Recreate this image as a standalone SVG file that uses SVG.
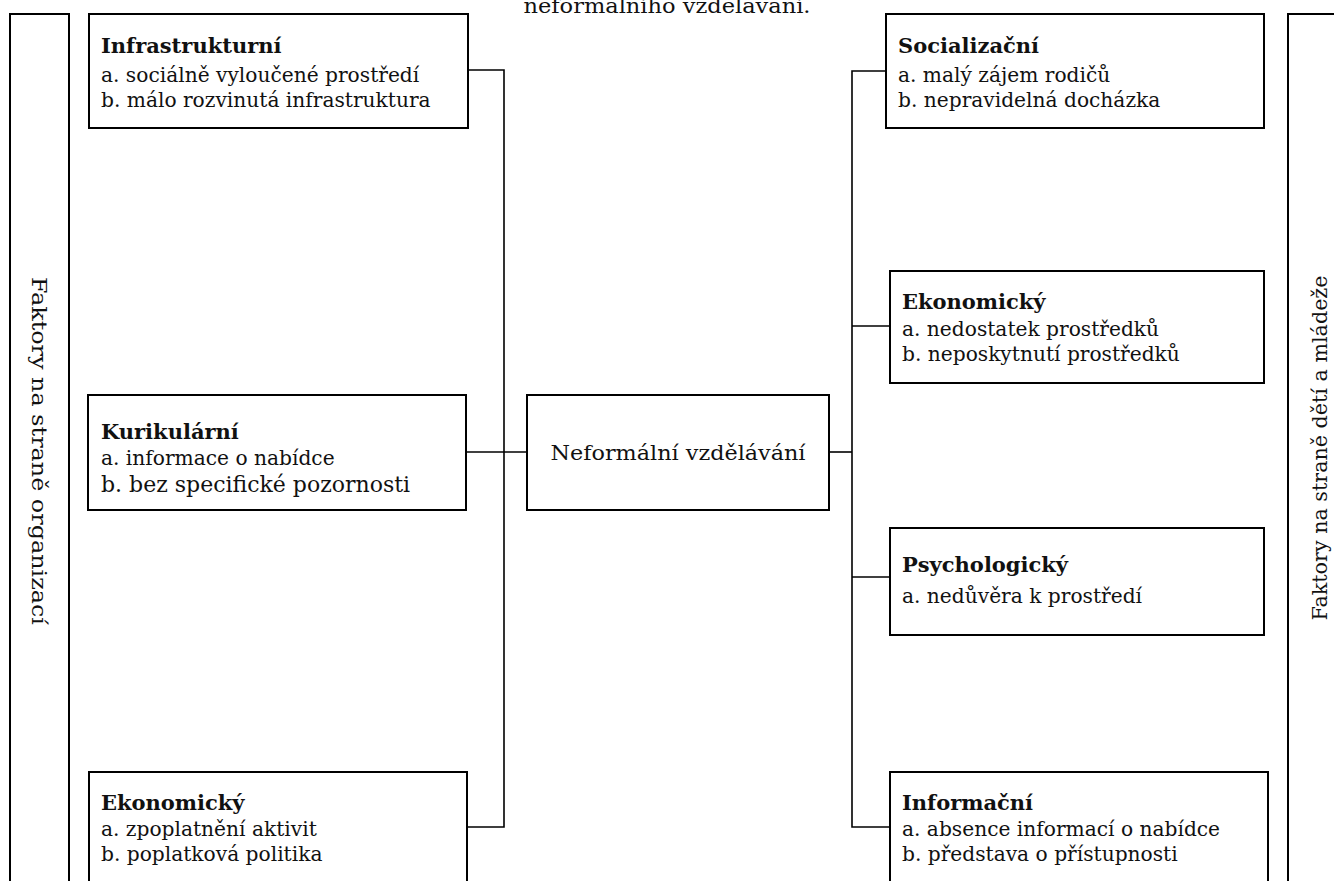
<svg xmlns="http://www.w3.org/2000/svg" width="1334" height="881" viewBox="0 0 1334 881">
<style>
  .box{fill:#fff;stroke:#000;stroke-width:2}
  .col{fill:#fff;stroke:#000;stroke-width:2}
  .ln{fill:none;stroke:#000;stroke-width:1.6}
  text{font-family:"DejaVu Serif","Liberation Serif",serif;fill:#111;font-size:20.2px}
  .t{font-weight:bold;font-size:21px}
  .c{font-size:21px;text-anchor:middle}
</style>
<rect width="1334" height="881" fill="#fff"/>
<text class="c" x="667" y="13" style="font-size:20px" textLength="287" lengthAdjust="spacingAndGlyphs">neformálního vzdělávání.</text>

<g id="col-left"><rect class="col" x="10" y="14" width="59" height="900"/>
<text x="0" y="0" class="c" transform="translate(32,451) rotate(90)" textLength="348" lengthAdjust="spacingAndGlyphs">Faktory na straně organizací</text></g>
<g id="col-right"><rect class="col" x="1288" y="14" width="60" height="900"/>
<text x="0" y="0" class="c" transform="translate(1327,448) rotate(-90)" textLength="345" lengthAdjust="spacingAndGlyphs">Faktory na straně dětí a mládeže</text></g>

<g id="connectors">
  <path class="ln" d="M467,70 H504 V827 H467"/>
  <path class="ln" d="M466,452 H527"/>
  <path class="ln" d="M829,452 H852"/>
  <path class="ln" d="M886,71 H852 V827 H890"/>
  <path class="ln" d="M852,326 H890"/>
  <path class="ln" d="M852,577 H890"/>
</g>

<g id="infra"><rect class="box" x="89" y="14" width="379" height="114"/>
<text class="t" x="101" y="53">Infrastrukturní</text>
<text x="101" y="82">a. sociálně vyloučené prostředí</text>
<text x="101" y="107">b. málo rozvinutá infrastruktura</text></g>

<g id="kurik"><rect class="box" x="88" y="395" width="378" height="115"/>
<text class="t" x="101" y="439">Kurikulární</text>
<text x="101" y="465">a. informace o nabídce</text>
<text x="101" y="492" style="font-size:22px">b. bez specifické pozornosti</text></g>

<g id="ekon-left"><rect class="box" x="89" y="772" width="378" height="130"/>
<text class="t" x="101" y="810">Ekonomický</text>
<text x="101" y="836">a. zpoplatnění aktivit</text>
<text x="101" y="861">b. poplatková politika</text></g>

<g id="center"><rect class="box" x="527" y="395" width="302" height="115"/>
<text class="c" x="678" y="460" textLength="255" lengthAdjust="spacingAndGlyphs">Neformální vzdělávání</text></g>

<g id="social"><rect class="box" x="886" y="14" width="378" height="114"/>
<text class="t" x="898" y="53">Socializační</text>
<text x="898" y="82">a. malý zájem rodičů</text>
<text x="898" y="107">b. nepravidelná docházka</text></g>

<g id="ekon-right"><rect class="box" x="890" y="271" width="374" height="112"/>
<text class="t" x="902" y="309">Ekonomický</text>
<text x="902" y="336">a. nedostatek prostředků</text>
<text x="902" y="361">b. neposkytnutí prostředků</text></g>

<g id="psych"><rect class="box" x="890" y="528" width="374" height="107"/>
<text class="t" x="902" y="572">Psychologický</text>
<text x="902" y="603">a. nedůvěra k prostředí</text></g>

<g id="inform"><rect class="box" x="890" y="772" width="378" height="130"/>
<text class="t" x="902" y="810">Informační</text>
<text x="902" y="836">a. absence informací o nabídce</text>
<text x="902" y="861">b. představa o přístupnosti</text></g>
</svg>
